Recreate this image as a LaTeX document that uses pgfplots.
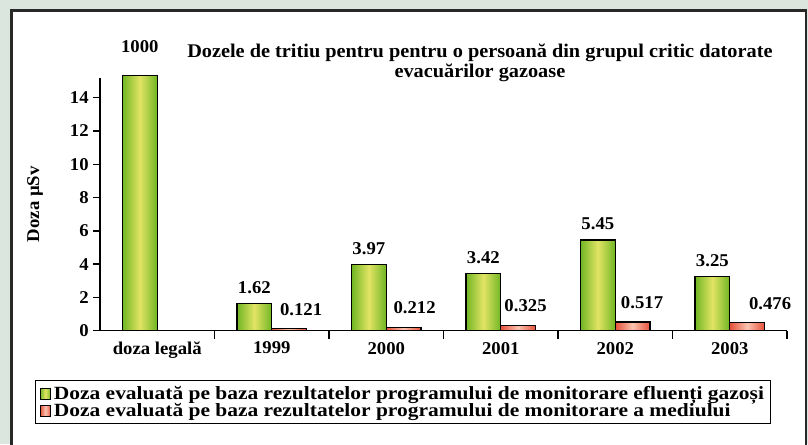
\documentclass[border=0pt]{standalone}
\usepackage{pgfplots}
\pgfplotsset{compat=1.18}
\usepackage{fontspec}
\setmainfont{Liberation Serif}
\newfontfamily\fA{Liberation Serif}[FakeStretch=1.04]
\newfontfamily\fT{Liberation Serif}[FakeStretch=1.05]
\newfontfamily\fL{Liberation Serif}[FakeStretch=1.15]
\definecolor{bgg}{RGB}{218,230,222}
\definecolor{gdark}{RGB}{112,182,36}
\definecolor{glight}{RGB}{226,228,100}
\definecolor{rdark}{RGB}{230,80,58}
\definecolor{rlight}{RGB}{250,196,176}
\definecolor{frame}{RGB}{40,40,40}
\newcommand{\lbl}{\fA\fontsize{13.5}{15}\selectfont\bfseries}
\newcommand{\ttl}{\fT\fontsize{14.5}{15}\selectfont\bfseries}
\newcommand{\leg}{\fL\fontsize{14}{14}\selectfont\bfseries}
\pgfplotsset{
  gbar/.style={ybar, bar width=0.304, bar shift=-0.152, draw=black, line width=0.9pt,
    left color=gdark, right color=gdark, middle color=glight, forget plot},
  rbar/.style={ybar, bar width=0.304, bar shift=0.152, draw=black, line width=0.9pt,
    left color=rdark, right color=rdark, middle color=rlight, forget plot},
  glab/.style 2 args={nodes near coords={#1},
    every node near coord/.append style={font=\lbl, anchor=south, inner sep=0pt, yshift=#2, xshift=-13.05pt}},
  rlab/.style 2 args={nodes near coords={#1},
    every node near coord/.append style={font=\lbl, anchor=south, inner sep=0pt, yshift=9.5pt, xshift=#2}},
}
\begin{document}
\begin{tikzpicture}
\useasboundingbox (0pt,0pt) rectangle (606pt,333pt);
\fill[bgg] (0pt,0pt) rectangle (606pt,333pt);
\filldraw[fill=white, draw=frame, line width=2.2pt] (8.6pt,-5pt) rectangle (604.5pt,325.1pt);
\begin{axis}[
  at={(75pt,85pt)}, anchor=south west, scale only axis,
  width=515.25pt, height=189.7pt,
  xmin=-0.5, xmax=5.5, ymin=0, ymax=15.2, clip=false,
  axis lines*=left, axis line style={line width=1.1pt, black},
  tick align=outside,
  tick style={line width=1.1pt, black},
  xtick={0,...,5}, xticklabels={doza legală,1999,2000,2001,2002,2003},
  major x tick style={draw=none},
  minor xtick={0.5,1.5,2.5,3.5,4.5,5.5}, minor tick length=6pt,
  ytick={0,2,...,14}, major tick length=5pt,
  /pgf/number format/assume math mode=true,
  yticklabel style={font=\lbl},
  xticklabel style={font=\lbl},
  every axis y label/.style={at={(rel axis cs:-0.0946,0.5)}, rotate=90, anchor=center, font=\lbl},
  ylabel={Doza µSv},
  legend style={at={(rel axis cs:-0.0946,-0.195)}, anchor=north west, draw=black,
    line width=1.1pt, font=\leg, cells={anchor=west}, row sep=-2.5pt},
]
\addlegendimage{legend image code/.code={\draw[draw=black, line width=0.6pt, left color=gdark, right color=gdark, middle color=glight] (0pt,-4pt) rectangle (8pt,4pt);}}
\addlegendentry{Doza evaluată pe baza rezultatelor programului de monitorare efluenți gazoși}
\addlegendimage{legend image code/.code={\draw[draw=black, line width=0.6pt, left color=rdark, right color=rdark, middle color=rlight] (0pt,-4pt) rectangle (8pt,4pt);}}
\addlegendentry{Doza evaluată pe baza rezultatelor programului de monitorare a mediului}

\addplot[gbar, glab={1000}{17pt}] coordinates {(0,15.32)};
\addplot[gbar, glab={1.62}{7pt}] coordinates {(1,1.62)};
\addplot[gbar, glab={3.97}{7pt}] coordinates {(2,3.97)};
\addplot[gbar, glab={3.42}{7pt}] coordinates {(3,3.42)};
\addplot[gbar, glab={5.45}{7pt}] coordinates {(4,5.45)};
\addplot[gbar, glab={3.25}{7pt}] coordinates {(5,3.25)};
\addplot[rbar, rlab={0.121}{22pt}] coordinates {(1,0.121)};
\addplot[rbar, rlab={0.212}{21.3pt}] coordinates {(2,0.212)};
\addplot[rbar, rlab={0.325}{18.6pt}] coordinates {(3,0.325)};
\addplot[rbar, rlab={0.517}{20.1pt}] coordinates {(4,0.517)};
\addplot[rbar, rlab={0.476}{30.3pt}] coordinates {(5,0.476)};

\node[font=\ttl, align=center] at (rel axis cs:0.553,1.0585)
  {Dozele de tritiu pentru pentru o persoană din grupul critic datorate\\evacuărilor gazoase};
\end{axis}
\end{tikzpicture}
\end{document}
